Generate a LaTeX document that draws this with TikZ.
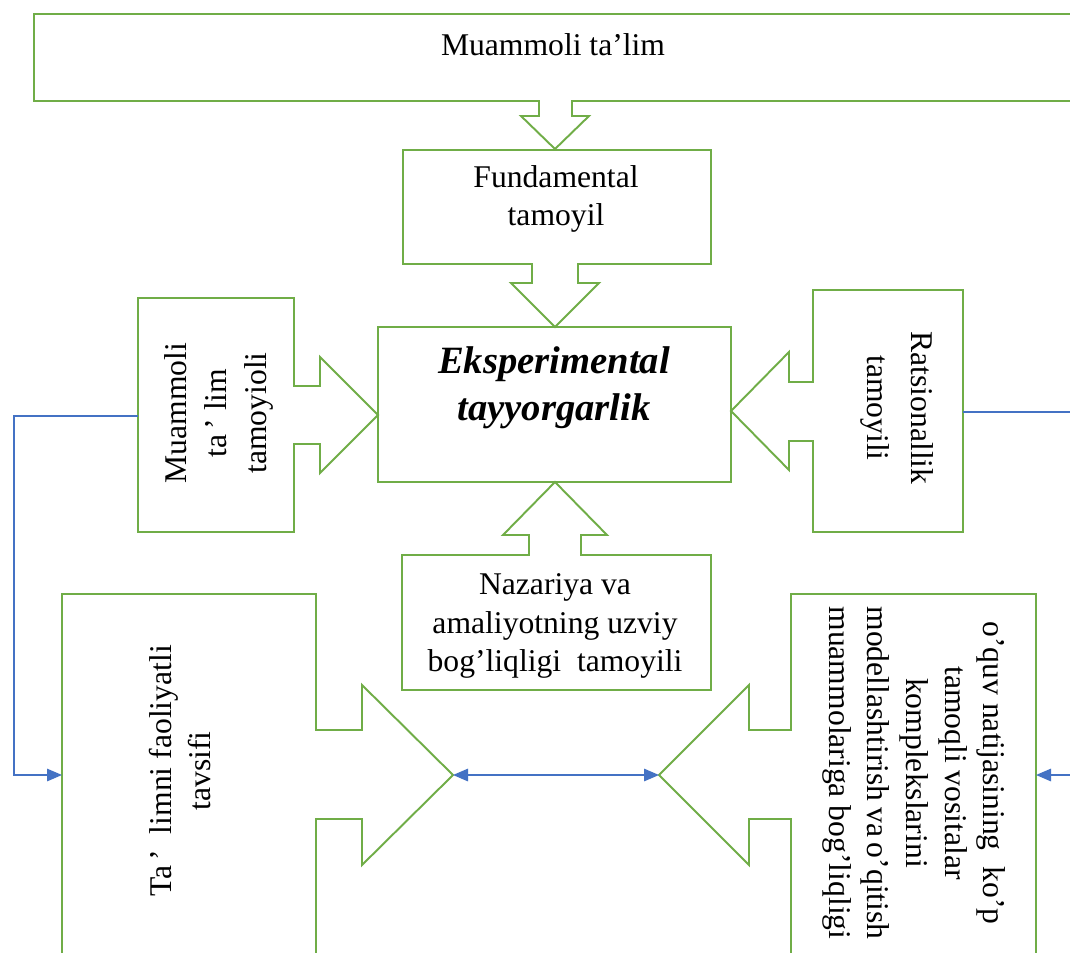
\documentclass[tikz,border=0pt]{standalone}
\usepackage{fontspec}
\setmainfont{Liberation Serif}
\usetikzlibrary{arrows.meta}
\definecolor{calloutgreen}{HTML}{70AD47}
\definecolor{linkblue}{HTML}{4472C4}

\begin{document}
\begin{tikzpicture}[x=0.02cm, y=-0.02cm,
    callout/.style={draw=calloutgreen, line width=1.1pt, line join=miter},
    boxtext/.style={font=\fontsize{18}{22}\selectfont, align=center, inner sep=0pt},
    link/.style={draw=linkblue, line width=0.8pt},
    linktip/.style={-{Triangle[length=0.3cm, width=0.25cm]}}]
    \clip (0,0) rectangle (1070,952);
    \fill[white] (0,0) rectangle (1070,952);

    % Callouts
    \draw[callout] (34,101) -- (34,14) -- (1090,14) -- (1090,101) -- (572,101) -- (572,116)
        -- (589,116) -- (555,149) -- (521,116) -- (539,116) -- (539,101) -- cycle;
    \draw[callout] (403,264) -- (403,150) -- (711,150) -- (711,264) -- (578,264) -- (578,283)
        -- (599,283) -- (555,327) -- (511,283) -- (532,283) -- (532,264) -- cycle;
    \draw[callout] (378,327) rectangle (731,482);
    \draw[callout] (294,386) -- (294,298) -- (138,298) -- (138,532) -- (294,532) -- (294,444)
        -- (320,444) -- (320,473) -- (378,415) -- (320,357) -- (320,386) -- cycle;
    \draw[callout] (813,382) -- (813,290) -- (963,290) -- (963,532) -- (813,532) -- (813,441)
        -- (789,441) -- (789,470) -- (731,411) -- (789,352) -- (789,382) -- cycle;
    \draw[callout] (529,555) -- (402,555) -- (402,690) -- (711,690) -- (711,555) -- (581,555)
        -- (581,535) -- (607,535) -- (555,482) -- (503,535) -- (529,535) -- cycle;
    \draw[callout] (316,730) -- (316,594) -- (62,594) -- (62,1000) -- (316,1000) -- (316,819)
        -- (362,819) -- (362,865) -- (453,775) -- (362,685) -- (362,730) -- cycle;
    \draw[callout] (791,730) -- (791,594) -- (1036,594) -- (1036,1000) -- (791,1000) -- (791,819)
        -- (749,819) -- (749,865) -- (659,775) -- (749,685) -- (749,730) -- cycle;

    % Nodes
    \node[boxtext] (muammoli) at (553,45) {Muammoli ta’lim};
    \node[boxtext] (fundamental) at (556,199) {Fundamental\\tamoyil};
    \node[boxtext, font=\fontsize{22}{27}\selectfont\bfseries\itshape] (eksperimental) at (554,388)
        {Eksperimental\\tayyorgarlik};
    \node[boxtext, rotate=90, font=\fontsize{18}{23}\selectfont] (tamoyioli) at (219,413)
        {Muammoli\\ta\,’ lim\\tamoyioli};
    \node[boxtext, rotate=-90, font=\fontsize{18}{25}\selectfont] (ratsionallik) at (897,408)
        {Ratsionallik\\tamoyili};
    \node[boxtext] (nazariya) at (555,626) {Nazariya va\\amaliyotning uzviy\\bog’liqligi\ \ tamoyili};
    \node[boxtext, rotate=90] (faoliyatli) at (180,771) {Ta\,’\ \ limni faoliyatli\\tavsifi};
    \node[boxtext, rotate=-90] (natija) at (914,773)
        {o’quv natijasining\ \ ko’p\\tamoqli vositalar\\komplekslarini\\
         \makebox[6.66cm][s]{modellashtirish va o’qitish}\\
         \makebox[6.66cm][s]{muammolariga bog’liqligi}};

    % Edges
    \coordinate (tamoyioli west) at (138,416);
    \coordinate (ratsionallik east) at (963,412);
    \coordinate (faoliyatli west) at (62,775);
    \coordinate (natija east) at (1036,775);
    \coordinate (faoliyatli tip) at (453,775);
    \coordinate (natija tip) at (659,775);
    \coordinate (ratsionallik out) at (1080,412);
    \coordinate (natija out) at (1080,775);
    \draw[link, linktip] (tamoyioli west) -- ++(-124,0) |- (faoliyatli west);
    \draw[link, {Triangle[length=0.3cm, width=0.25cm]}-{Triangle[length=0.3cm, width=0.25cm]}]
        (faoliyatli tip) -- (natija tip);
    \draw[link, linktip] (natija out) -- (natija east);
    \draw[link] (ratsionallik east) -- (ratsionallik out);
\end{tikzpicture}
\end{document}
